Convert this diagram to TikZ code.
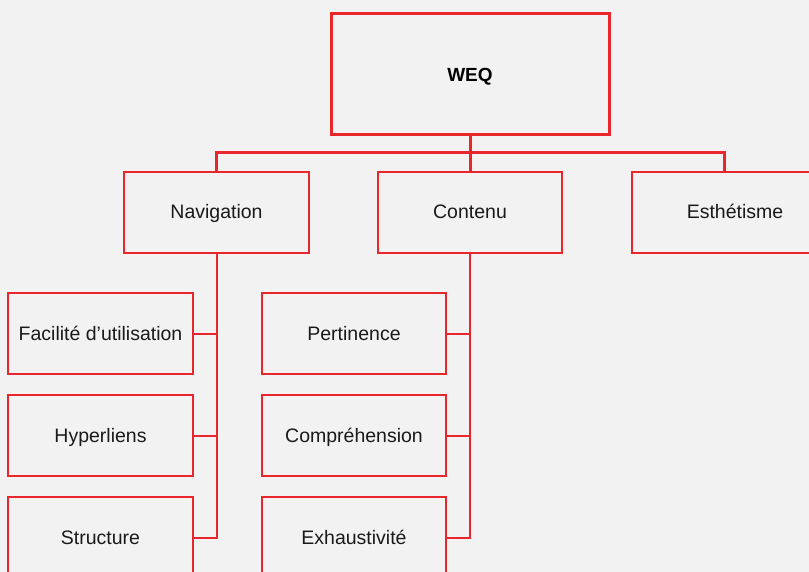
\documentclass[tikz,border=0pt]{standalone}
\usepackage{fontspec}
\setmainfont{Liberation Sans}
\definecolor{bg}{HTML}{F2F2F2}
\definecolor{rd}{HTML}{E8262B}
\definecolor{tx}{HTML}{1A1A1A}
\begin{document}
\begin{tikzpicture}[x=1pt,y=-1pt,
  box/.style={draw=rd,line width=1.6pt,inner sep=0pt,minimum width=185pt,minimum height=81pt,text=tx,text height=14pt,text depth=1pt,font=\fontsize{19.5}{23}\selectfont},
  topbox/.style={box,line width=3pt,minimum width=278pt,minimum height=121pt,text depth=0pt,font=\fontsize{19}{23}\selectfont\bfseries,text=black},
  thickline/.style={draw=rd,line width=3pt},
  thinline/.style={draw=rd,line width=2pt}]
\fill[bg] (0,0) rectangle (809,572);
\useasboundingbox (0,0) rectangle (809,572);
\node[topbox] (weq) at (470,74.5) {WEQ};
\node[box] (nav) at (216.5,212.5) {Navigation};
\node[box,minimum width=184pt] (cont) at (470,212.5) {Contenu};
\node[box,minimum width=206pt] (esth) at (735,212.5) {Esthétisme};
\node[box] (fac) at (100.5,333.5) {Facilité d’utilisation};
\node[box] (hyp) at (100.5,435.5) {Hyperliens};
\node[box] (str) at (100.5,537.5) {Structure};
\node[box,minimum width=184pt] (per) at (354,333.5) {Pertinence};
\node[box,minimum width=184pt] (com) at (354,435.5) {Compréhension};
\node[box,minimum width=184pt] (exh) at (354,537.5) {Exhaustivité};
\coordinate (edrop) at (724,153);
\draw[thickline] (weq.south) -- (cont.north);
\draw[thickline] (nav.north) |- (edrop) -- (esth.north -| edrop);
\draw[thinline] (nav.south) |- (str.east);
\draw[thinline] (fac.east) -- (fac.east -| nav.south);
\draw[thinline] (hyp.east) -- (hyp.east -| nav.south);
\draw[thinline] (cont.south) |- (exh.east);
\draw[thinline] (per.east) -- (per.east -| cont.south);
\draw[thinline] (com.east) -- (com.east -| cont.south);
\end{tikzpicture}
\end{document}
